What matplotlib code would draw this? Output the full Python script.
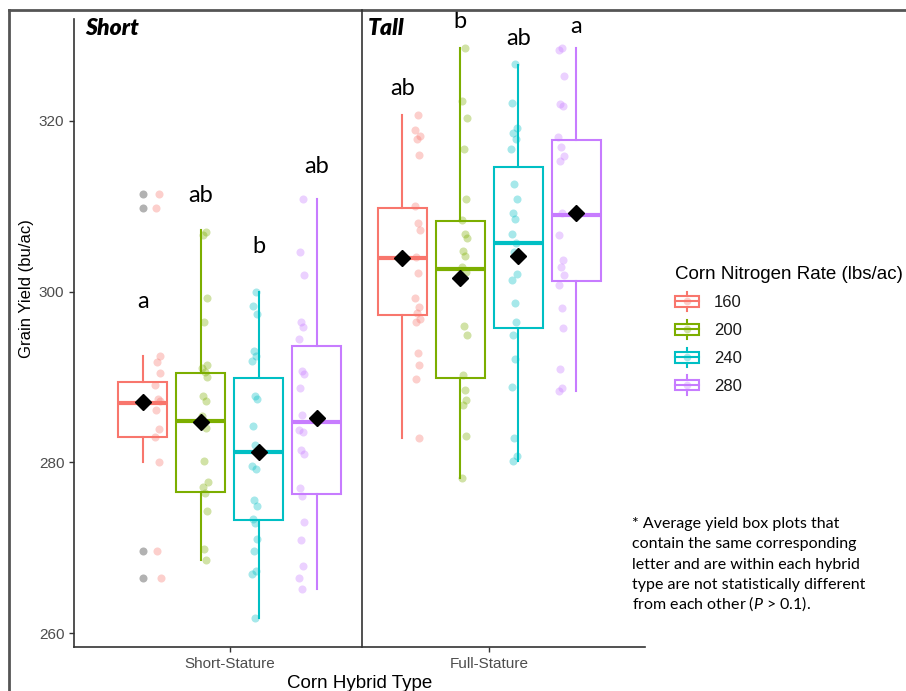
import matplotlib
matplotlib.use("Agg")
import matplotlib.pyplot as plt
from matplotlib.lines import Line2D
from matplotlib.patches import Rectangle
from matplotlib.legend_handler import HandlerBase

plt.rcParams["font.family"] = ["Liberation Sans", "DejaVu Sans"]
plt.rcParams["mathtext.fontset"] = "custom"
plt.rcParams["mathtext.it"] = "Lato:italic"
plt.rcParams["mathtext.rm"] = "Lato"

hybrids = ["Short-Stature", "Full-Stature"]
rates = ["160", "200", "240", "280"]
colors = ["#F8766D", "#7CAE00", "#00BFC4", "#C77CFF"]

# box stats: whislo, q1, med, q3, whishi, mean
short_stats = [
    [280.0, 283.0, 287.0, 289.4, 292.5, 287.1],
    [268.6, 276.5, 284.8, 290.5, 307.2, 284.7],
    [261.8, 273.2, 281.2, 289.85, 300.0, 281.2],
    [265.1, 276.25, 284.7, 293.6, 310.8, 285.2],
]
tall_stats = [
    [282.8, 297.3, 304.0, 309.8, 320.7, 304.0],
    [278.2, 289.85, 302.6, 308.3, 328.5, 301.6],
    [280.2, 295.7, 305.7, 314.6, 326.6, 304.2],
    [288.4, 301.3, 309.0, 317.8, 328.5, 309.25],
]
short_fliers = [[311.5, 309.8, 269.6, 266.5], [], [], []]
tall_fliers = [[], [], [], []]

short_pts = [
    [311.5, 309.8, 292.5, 291.7, 290.5, 289.1, 287.4, 287.2, 286.1, 283.9, 283.0, 280.0, 269.6, 266.5],
    [307.0, 306.6, 299.3, 296.5, 291.4, 291.0, 290.6, 290.0, 287.8, 287.2, 285.4, 284.0, 280.2,
     277.7, 277.1, 276.4, 274.3, 269.9, 268.6],
    [300.0, 298.3, 297.4, 293.0, 292.5, 291.9, 287.8, 287.4, 284.2, 282.0, 279.6, 279.2, 275.6,
     274.9, 273.4, 272.9, 271.0, 269.6, 267.3, 266.9, 261.8],
    [310.8, 304.6, 302.0, 296.5, 295.9, 294.5, 290.7, 290.4, 288.7, 285.5, 283.8, 283.5, 281.5,
     281.0, 277.0, 276.0, 273.0, 270.9, 267.9, 266.5, 265.1],
]
tall_pts = [
    [320.7, 319.0, 318.2, 317.9, 316.0, 310.0, 308.0, 307.2, 304.1, 302.2, 299.3, 298.2, 297.5,
     296.8, 296.5, 292.8, 291.4, 289.8, 282.8],
    [328.6, 322.3, 320.3, 316.7, 310.9, 308.4, 306.8, 306.3, 304.8, 304.2, 302.9, 302.3, 296.0,
     294.9, 290.2, 288.5, 287.3, 286.7, 283.1, 278.2],
    [326.7, 322.1, 319.2, 318.6, 317.9, 316.7, 312.6, 310.8, 309.2, 308.5, 306.8, 305.7, 304.7,
     302.1, 301.4, 298.7, 296.4, 294.9, 292.1, 288.8, 282.8, 280.7, 280.2],
    [328.5, 328.3, 325.3, 322.0, 321.8, 318.1, 317.0, 315.9, 315.3, 309.2, 306.6, 303.7, 302.9,
     302.0, 300.8, 298.1, 295.7, 290.9, 288.7, 288.3],
]

short_letters = ["a", "ab", "b", "ab"]
short_letter_y = [298.05, 310.5, 304.5, 313.9]
tall_letters = ["ab", "b", "ab", "a"]
tall_letter_y = [323.1, 330.9, 328.9, 330.3]

note_lines = ["* Average yield box plots that",
              "contain the same corresponding",
              "letter and are within each hybrid",
              "type are not statistically different",
              "from each other ($P$ > 0.1)."]

box_off = [-0.335, -0.112, 0.112, 0.335]
pt_off = [-0.277, -0.096, 0.096, 0.277]
jit = [0.004, -0.008, 0.010, -0.003, 0.007, -0.011, 0.001, 0.009, -0.006, 0.003,
       -0.010, 0.006, -0.002, 0.011, -0.007, 0.002, 0.008, -0.004, 0.005, -0.009,
       0.000, 0.010, -0.005]

fig = plt.figure(figsize=(9.06, 6.91), dpi=100)
ax = fig.add_axes([74 / 906, 44 / 691, 571 / 906, 628 / 691])

for h, (stats, fliers, pts) in enumerate([(short_stats, short_fliers, short_pts),
                                          (tall_stats, tall_fliers, tall_pts)]):
    for i in range(4):
        s = stats[i]
        pos = h + 1 + box_off[i]
        c = colors[i]
        bs = {"whislo": s[0], "q1": s[1], "med": s[2], "q3": s[3], "whishi": s[4], "fliers": fliers[i]}
        ax.bxp([bs], positions=[pos], widths=0.19, patch_artist=True, showcaps=False,
               boxprops=dict(facecolor="white", edgecolor=c, linewidth=1.5),
               whiskerprops=dict(color=c, linewidth=1.5),
               medianprops=dict(color=c, linewidth=3),
               flierprops=dict(marker="o", markerfacecolor="black", markeredgecolor="none",
                               alpha=0.3, markersize=5.8), zorder=2)
        xs = [h + 1 + pt_off[i] + jit[k % len(jit)] for k in range(len(pts[i]))]
        ax.plot(xs, pts[i], "o", color=c, alpha=0.35, markersize=5.8, markeredgewidth=0, zorder=3)
        ax.plot([pos], [s[5]], "D", color="black", markersize=8.5, zorder=4)

for i in range(4):
    ax.text(1 + box_off[i], short_letter_y[i], short_letters[i], ha="center", va="baseline",
            fontsize=17, family="Lato")
    ax.text(2 + box_off[i], tall_letter_y[i], tall_letters[i], ha="center", va="baseline",
            fontsize=17, family="Lato")

ax.set_xlim(0.4, 2.6)
ax.set_ylim(258.36, 331.95)
ax.set_xticks([1, 2])
ax.set_xticklabels(hybrids)
ax.set_yticks([260, 280, 300, 320])
ax.tick_params(colors="#333333", labelcolor="#4d4d4d", labelsize=11, length=3.5, width=1)
for sp in ["top", "right"]:
    ax.spines[sp].set_visible(False)
for sp in ["left", "bottom"]:
    ax.spines[sp].set_linewidth(1.2)
    ax.spines[sp].set_color("#333333")
ax.set_ylabel("Grain Yield (bu/ac)", fontsize=12)
ax.yaxis.set_label_coords(-0.07, 0.57)
ax.set_xlabel("Corn Hybrid Type", fontsize=13.5, labelpad=3)


class BoxHandler(HandlerBase):
    def create_artists(self, legend, orig_handle, xdescent, ydescent, width, height, fontsize, trans):
        c = orig_handle.get_color()
        x0 = -xdescent
        y0 = -ydescent
        xm = x0 + width / 2
        rect = Rectangle((x0, y0 + 0.22 * height), width, 0.56 * height, facecolor="white",
                         edgecolor=c, linewidth=1.5, transform=trans)
        w1 = Line2D([xm, xm], [y0, y0 + 0.22 * height], color=c, linewidth=1.5, transform=trans)
        w2 = Line2D([xm, xm], [y0 + 0.78 * height, y0 + height], color=c, linewidth=1.5, transform=trans)
        med = Line2D([x0, x0 + width], [y0 + 0.5 * height] * 2, color=c, linewidth=1.5, transform=trans)
        dot = Line2D([xm], [y0 + 0.5 * height], marker="o", color=c, alpha=0.35, markersize=5.5,
                     markeredgewidth=0, transform=trans)
        return [rect, w1, w2, med, dot]


handles = [Line2D([], [], color=c) for c in colors]
leg = fig.legend(handles, rates, handler_map={Line2D: BoxHandler()}, loc="upper left",
                 bbox_to_anchor=(656 / 906, 1 - 247 / 691), frameon=False,
                 title="Corn Nitrogen Rate (lbs/ac)", title_fontsize=13.5, fontsize=12,
                 handlelength=1.45, handleheight=1.4, labelspacing=0.52, handletextpad=0.9,
                 borderpad=0.64, alignment="left")
for t in leg.get_texts():
    t.set_color("#1a1a1a")

fig.text(85 / 906, 1 - 35 / 691, "Short", fontsize=16.5, family="Lato", weight="heavy",
         style="italic", va="baseline")
fig.text(368 / 906, 1 - 35 / 691, "Tall", fontsize=16.5, family="Lato", weight="heavy",
         style="italic", va="baseline")
for k, line in enumerate(note_lines):
    fig.text(632 / 906, 1 - (528 + 20.3 * k) / 691, line, fontsize=11.5, family="Lato",
             va="baseline")

# slide frame and panel divider
fig.add_artist(Line2D([9 / 906, 1], [1 - 9.5 / 691] * 2, color="#555555", linewidth=2))
fig.add_artist(Line2D([9 / 906] * 2, [0, 1 - 9.5 / 691], color="#555555", linewidth=2))
fig.add_artist(Line2D([362 / 906] * 2, [44 / 691, 1 - 9.5 / 691], color="#333333", linewidth=1.2))

fig.savefig("out.png", dpi=100)
